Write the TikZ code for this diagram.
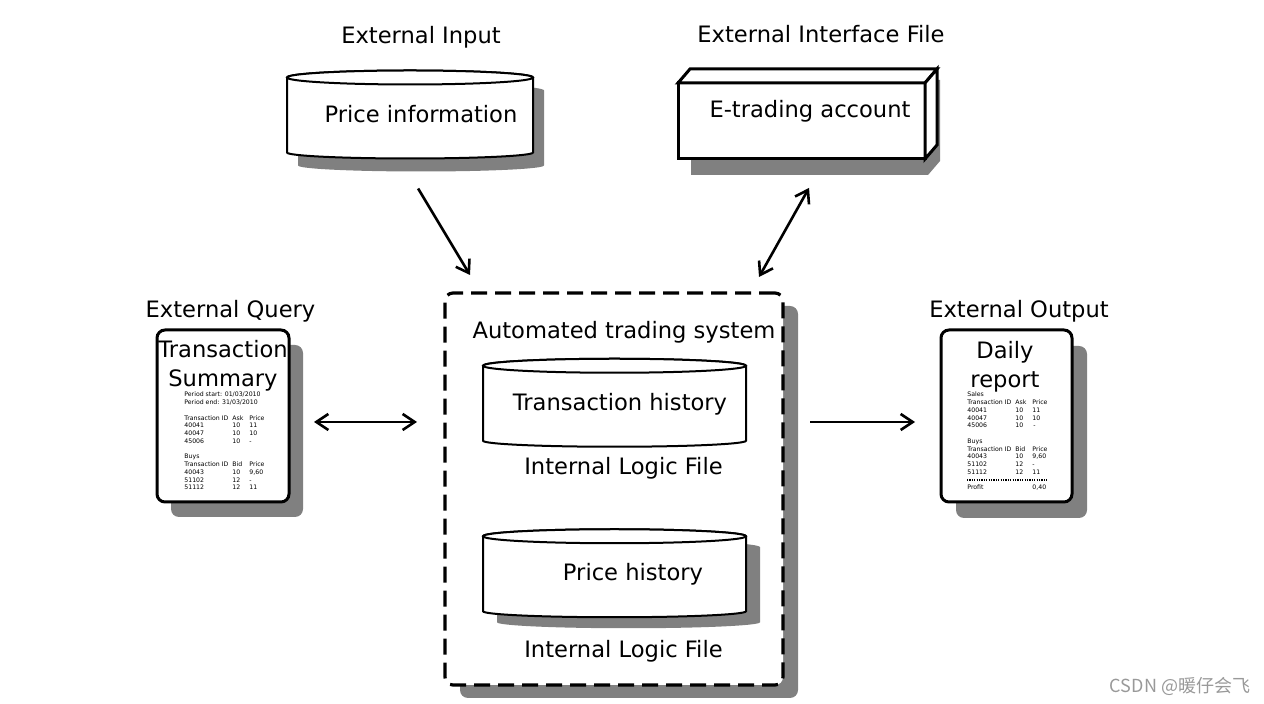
\documentclass[tikz,border=0pt]{standalone}
\usepackage{fontspec}
\setmainfont{DejaVu Sans}
\newfontfamily\cjkfont{Noto Sans CJK SC}
\usetikzlibrary{arrows.meta,calc,positioning}
\pgfdeclarelayer{back}
\pgfdeclarelayer{shadow}
\pgfdeclarelayer{background}
\pgfsetlayers{back,shadow,background,main}
\tikzset{
    >={Straight Barb[length=6pt,width=8pt]},
    every node/.style={font=\fontsize{11.3}{14.5}\selectfont},
    lbl/.style={anchor=base, inner sep=0pt},
    store/.style={inner sep=0pt, outer sep=0pt, minimum height=37.5pt},
    cylline/.style={draw, line width=1pt, fill=white},
    box/.style={draw, line width=1.5pt, fill=white, inner sep=0pt, outer sep=0pt},
    doc/.style={box, rounded corners=4pt, minimum width=66pt, minimum height=86pt},
    system/.style={draw, line width=1.6pt, dash pattern=on 8pt off 4pt, rounded corners=4pt, outer sep=0pt, minimum width=169pt, minimum height=196pt},
    shadowfill/.style={fill=black!50},
    flow/.style={line width=1.3pt, ->},
    twoway/.style={line width=1.3pt, <->},
    printed/.style={anchor=base west, inner sep=0pt, font=\fontsize{3.1}{3.875}\selectfont},
    wm/.style={anchor=base, inner sep=0pt, text=black!40, font=\cjkfont\fontsize{9}{11}\selectfont}
}

\begin{document}
\begin{tikzpicture}[x=0.5pt, y=-0.5pt]
    \useasboundingbox (0,0) rectangle (1264,704);

    % files and stores
    \node[store, minimum width=123pt, label={[xshift=5.5pt,yshift=0.5pt]center:Price information}] (pinfo) at (410,115) {};
    \node[box, minimum width=123.5pt, minimum height=38pt, label={[xshift=4.25pt,yshift=5pt]center:E-trading account}] (etrade) at (801.5,121) {};
    \node[system] (sys) at (614,489) {};
    \node[store, minimum width=131.5pt, label={[xshift=2.75pt,yshift=-0.4pt]center:Transaction history}] (thist) at (614.5,403.25) {};
    \node[store, minimum width=131.5pt, label={[xshift=9.25pt,yshift=-0.1pt]center:Price history}] (phist) at (614.5,573.75) {};
    \node[doc] (query) at (223,416) {};
    \node[doc, minimum width=65.5pt] (report) at (1006.5,416) {};

    % 3d faces of the interface file
    \draw[box] (etrade.north west) -- ++(12,-14) -- ($(etrade.north east)+(12,-14)$) -- (etrade.north east) -- cycle;
    \draw[box] (etrade.north east) -- ++(12,-14) -- ($(etrade.south east)+(12,-14)$) -- (etrade.south east) -- cycle;

    % shadows
    \begin{pgfonlayer}{back}
      \fill[shadowfill, rounded corners=4pt] ($(sys.north west)+(15,13)$) rectangle ($(sys.south east)+(15,13)$);
      \fill[white, rounded corners=4pt] (sys.north west) rectangle (sys.south east);
    \end{pgfonlayer}
    \begin{pgfonlayer}{shadow}
      \foreach \d/\dx/\dy in {query/14/15, report/15/16}
        \fill[shadowfill, rounded corners=4pt] ($(\d.north west)+(\dx,\dy)$) rectangle ($(\d.south east)+(\dx,\dy)$);
      \fill[shadowfill] ($(etrade.south west)+(13,16)$) -- ($(etrade.south east)+(3,16)$) -- ($(etrade.south east)+(15,2)$)
        -- ($(etrade.north east)+(15,-3)$) -- ($(etrade.north west)+(13,-3)$) -- cycle;
    \end{pgfonlayer}

    % cylinders
    \foreach \c/\rx/\dx/\dy in {pinfo/61.5/11/13, thist/65.75/0/0, phist/65.75/14/11} {
      \begin{pgfonlayer}{shadow}
        \fill[shadowfill] ($(\c.north west)+(\dx,\dy)$) -- ($(\c.south west)+(\dx,\dy)$)
          arc[start angle=180, end angle=360, x radius=\rx pt, y radius=3pt]
          -- ($(\c.north east)+(\dx,\dy)$)
          arc[start angle=0, end angle=180, x radius=\rx pt, y radius=3.5pt] -- cycle;
      \end{pgfonlayer}
      \begin{pgfonlayer}{background}
        \draw[cylline] (\c.north west) -- (\c.south west)
          arc[start angle=180, end angle=360, x radius=\rx pt, y radius=3pt]
          -- (\c.north east)
          arc[start angle=0, end angle=180, x radius=\rx pt, y radius=3.5pt] -- cycle;
        \draw[cylline] (\c.north) ellipse[x radius=\rx pt, y radius=3.5pt];
      \end{pgfonlayer}
    }

    % titles
    \node[lbl] (t-input) at (421,44) {External Input};
    \node[lbl] (t-iface) at (821,43) {External Interface File};
    \node[lbl] (t-query) at (230.5,318) {External Query};
    \node[lbl] (t-output) at (1019,318) {External Output};
    \node[lbl] (t-sys) at (624,339) {Automated trading system};
    \node[lbl] (ilf1) at (623.5,475) {Internal Logic File};
    \node[lbl] (ilf2) at (623.5,658) {Internal Logic File};
    \node[align=center, inner sep=0pt] (q-head) at (223,365.6) {Transaction\\Summary};
    \node[align=center, inner sep=0pt] (r-head) at (1005,366.6) {Daily\\report};

    % printed lines in the documents
    \node[printed] (q-data) at (184,397) {\begin{tabular}[t]{@{}p{24pt}@{}p{8.5pt}@{}l@{}}
      \multicolumn{3}{@{}l@{}}{Period start: 01/03/2010}\\
      \multicolumn{3}{@{}l@{}}{Period end: 31/03/2010}\\
      \\
      Transaction ID & Ask & Price\\
      40041 & 10 & 11\\
      40047 & 10 & 10\\
      45006 & 10 & -\\
      \\
      Buys\\
      Transaction ID & Bid & Price\\
      40043 & 10 & 9,60\\
      51102 & 12 & -\\
      51112 & 12 & 11
    \end{tabular}};
    \node[printed] (r-data) at (967,397) {\begin{tabular}[t]{@{}p{24pt}@{}p{8.5pt}@{}l@{}}
      Sales\\
      Transaction ID & Ask & Price\\
      40041 & 10 & 11\\
      40047 & 10 & 10\\
      45006 & 10 & \,-\\
      \\
      Buys\\
      Transaction ID & Bid & Price\\
      40043 & 10 & 9,60\\
      51102 & 12 & -\\
      51112 & 12 & 11\\
      \\
      Profit & & 0,40
    \end{tabular}};
    \draw[line width=1.4pt, dash pattern=on 0.6pt off 0.6pt] ($(r-data.base west)+(0,83)$) -- ++(80,0);

    % connectors
    \coordinate (q-out) at ([yshift=-3pt]query.east);
    \coordinate (r-in) at ([yshift=-3pt]report.west);
    \draw[flow, shorten <=21pt, shorten >=10.5pt] ([xshift=-6.75pt]pinfo.south) -- ([xshift=-66.6pt]sys.north);
    \draw[twoway, shorten <=16.6pt, shorten >=9.2pt] ([xshift=11.9pt]etrade.south) -- ([xshift=68pt]sys.north);
    \draw[twoway, shorten <=12.5pt, shorten >=14pt] (q-out) -- (q-out -| sys.west);
    \draw[flow, shorten <=13.5pt, shorten >=13pt] (r-in -| sys.east) -- (r-in);

    \node[wm] (mark) at (1180,693) {CSDN @暖仔会飞};
\end{tikzpicture}
\end{document}
